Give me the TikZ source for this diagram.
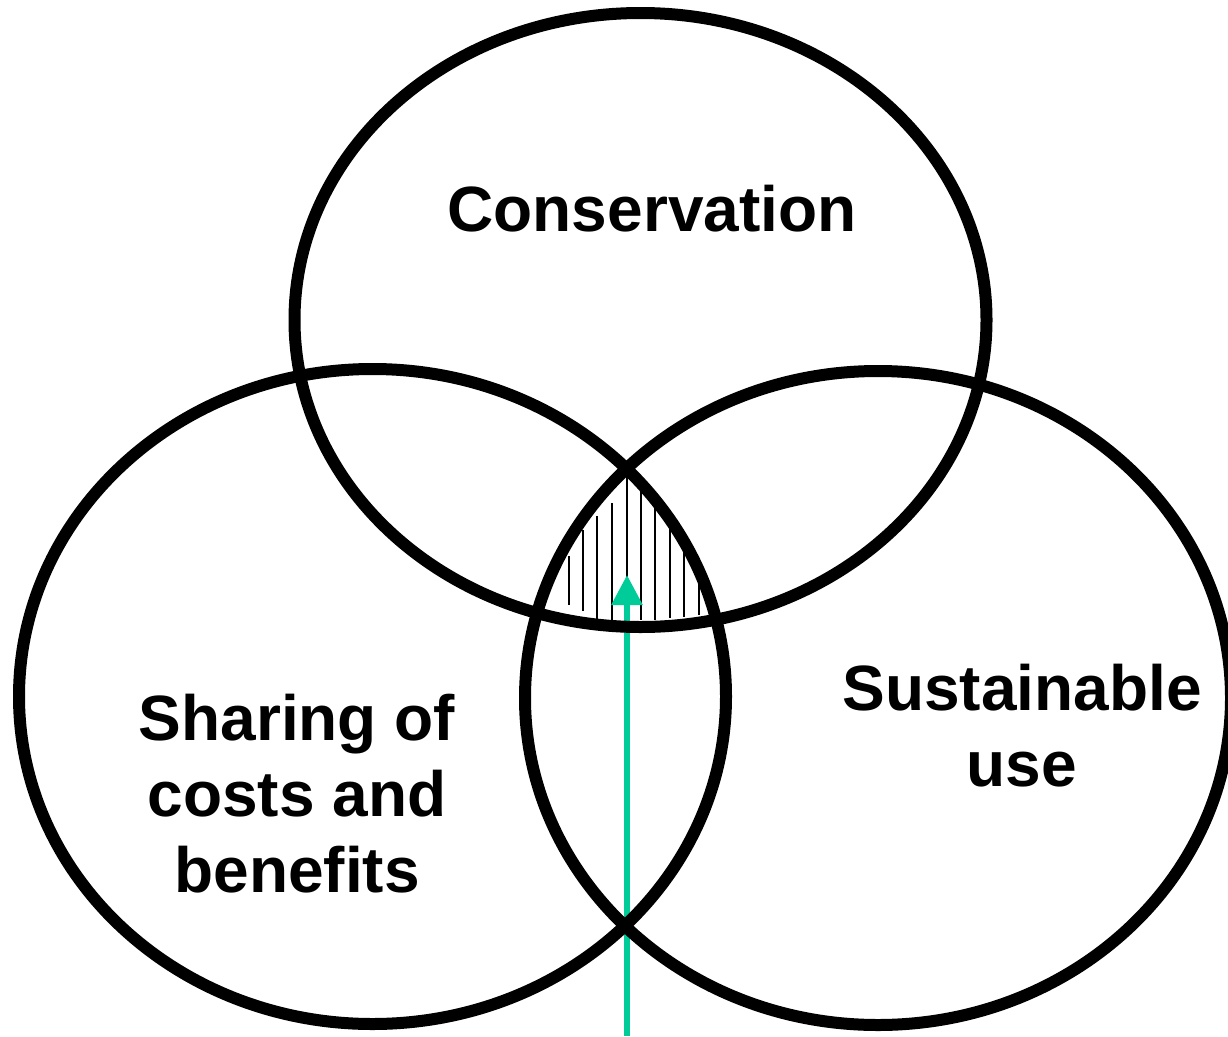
\documentclass[tikz,border=0pt]{standalone}
\usepackage{fontspec}
\setmainfont{Liberation Sans}
\usetikzlibrary{shapes.geometric,arrows.meta}
\definecolor{arrowgreen}{RGB}{0,204,153}
\begin{document}
\begin{tikzpicture}[x=1pt,y=-1pt,
  ring/.style={draw=black,line width=12pt,ellipse,inner sep=0pt},
  label/.style={anchor=base,inner sep=0pt,font=\fontsize{64}{76}\selectfont\bfseries},
  hatch/.style={draw=black,line width=2pt},
  pointer/.style={draw=arrowgreen,line width=6pt,-{Triangle[width=30pt,length=30pt]}}]
\useasboundingbox[fill=white] (0,0) rectangle (1228,1036);
% hatching of the common area
\foreach \x/\a/\b in {569/556/605,583/530/611,597/516/620,612/503/620,627/475/620,
                      641/490/620,655/505/620,670/529/618,684/548/617,699/582/615}
  \draw[hatch] (\x,\a) -- (\x,\b);
% arrow
\coordinate (tail) at (627,1036);
\coordinate (tip) at (627,575);
\draw[pointer] (tail) -- (tip);
% circles
\node[ring,minimum width=692pt,minimum height=614pt] (cons) at (640.5,320) {};
\node[ring,minimum width=707pt,minimum height=655pt] (share) at (372.5,696.5) {};
\node[ring,minimum width=706pt,minimum height=654pt] (sust) at (878,698) {};
% labels
\node[label] (tcons) at (652,231) {Conservation};
\node[label] (tshare1) at (297,740) {Sharing of};
\node[label] (tshare2) at (297,816) {costs and};
\node[label] (tshare3) at (297,892) {benefits};
\node[label] (tsust1) at (1022,710) {Sustainable};
\node[label] (tsust2) at (1022,786) {use};
\end{tikzpicture}
\end{document}
